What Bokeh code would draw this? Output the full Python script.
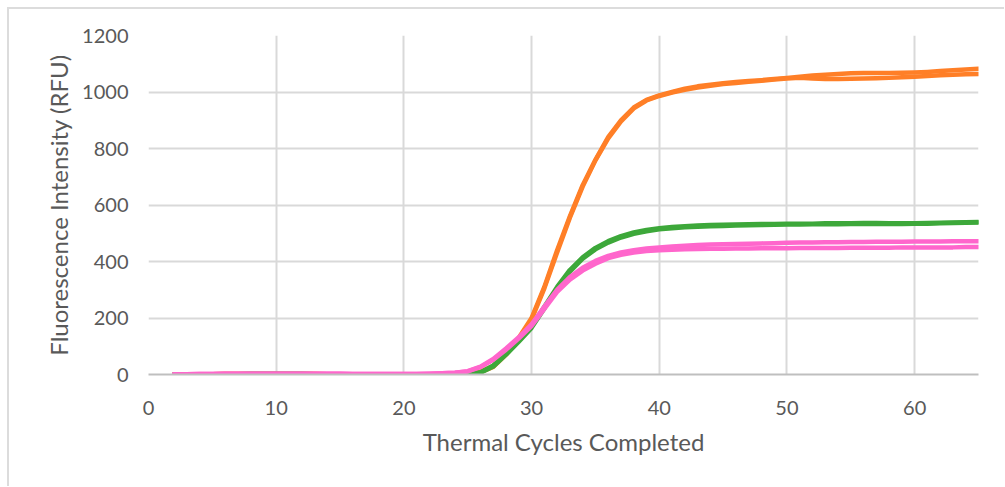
from bokeh.plotting import figure
from bokeh.models import FixedTicker, Range1d
from bokeh.embed import file_html
from bokeh.resources import INLINE

# ---- data ----
cycles = list(range(2, 66))

orange_a = [0, 1, 1, 1, 2, 2, 2, 2, 2, 2, 2, 2, 1, 1, 1, 1, 1, 1, 1, 1, 1, 1,
            1, 3, 10, 30, 75, 130, 200, 310, 440, 560, 670, 760, 840, 900, 945, 972,
            988, 1000, 1012, 1020, 1026, 1031, 1035, 1039, 1042, 1046, 1050, 1054,
            1058, 1061, 1064, 1066, 1067, 1067, 1067, 1068, 1069, 1071, 1074, 1077,
            1080, 1082]
orange_b = [0, 1, 1, 1, 2, 2, 2, 2, 2, 2, 2, 2, 1, 1, 1, 1, 1, 1, 1, 1, 1, 1,
            1, 2, 8, 27, 70, 125, 195, 305, 432, 555, 665, 758, 836, 896, 942, 970,
            986, 998, 1008, 1016, 1022, 1028, 1032, 1036, 1040, 1044, 1048, 1050,
            1048, 1046, 1046, 1047, 1048, 1049, 1050, 1052, 1054, 1057, 1059, 1061,
            1063, 1064]
green_a = [0, 0, 1, 1, 1, 1, 2, 2, 2, 2, 2, 1, 1, 1, 1, 1, 1, 1, 1, 1, 1, 1,
           0, 2, 8, 32, 75, 120, 170, 240, 310, 370, 415, 448, 472, 490, 503, 512,
           518, 522, 525, 527, 529, 530, 531, 532, 533, 533, 534, 534, 534, 535,
           535, 535, 536, 536, 535, 535, 535, 536, 537, 538, 539, 540]
green_b = [0, 0, 1, 1, 1, 1, 2, 2, 2, 2, 2, 1, 1, 1, 1, 1, 1, 1, 1, 1, 1, 1,
           0, 1, 6, 28, 70, 116, 165, 234, 305, 364, 410, 443, 467, 485, 498, 507,
           514, 518, 521, 523, 525, 526, 527, 528, 529, 530, 531, 531, 532, 532,
           532, 533, 533, 533, 533, 533, 534, 534, 535, 536, 537, 538]
pink_a = [1, 1, 2, 2, 3, 3, 3, 3, 3, 3, 3, 3, 3, 3, 2, 2, 2, 2, 2, 2, 3, 4,
          6, 12, 28, 55, 92, 132, 178, 240, 300, 345, 378, 402, 420, 432, 440, 446,
          450, 453, 456, 458, 460, 461, 462, 463, 464, 465, 466, 467, 467, 468,
          468, 469, 469, 470, 470, 470, 471, 471, 471, 472, 472, 472]
pink_b = [1, 1, 2, 2, 3, 3, 3, 3, 3, 3, 3, 3, 3, 3, 2, 2, 2, 2, 2, 2, 3, 4,
          6, 11, 26, 52, 88, 128, 172, 232, 292, 336, 368, 392, 412, 424, 432, 437,
          440, 442, 443, 444, 445, 445, 446, 446, 447, 447, 447, 448, 448, 448,
          448, 449, 449, 449, 449, 450, 450, 450, 450, 450, 451, 451]

x_ticks = [0, 10, 20, 30, 40, 50, 60]
y_ticks = [0, 200, 400, 600, 800, 1000, 1200]

ORANGE = "#ff7f27"
GREEN = "#3da83a"
PINK = "#ff66cc"
TEXT = "#595959"
GRID = "#d9d9d9"
FONT = "Lato"

p = figure(width=997, height=479, output_backend="svg", toolbar_location=None,
           x_range=Range1d(0, 65), y_range=Range1d(0, 1200),
           min_border_left=139, min_border_right=28, min_border_top=26,
           min_border_bottom=114)
p.styles = {"border-left": "2px solid #dcdcdc", "border-top": "2px solid #dcdcdc",
            "margin-left": "7px", "margin-top": "7px"}
p.outline_line_color = None
p.background_fill_color = "white"
p.border_fill_color = "white"

for ys, c in [(orange_a, ORANGE), (orange_b, ORANGE), (green_a, GREEN),
              (green_b, GREEN), (pink_a, PINK), (pink_b, PINK)]:
    p.line(cycles, ys, line_color=c, line_width=4.5, line_join="round", line_cap="round")

p.xaxis.ticker = FixedTicker(ticks=x_ticks)
p.yaxis.ticker = FixedTicker(ticks=y_ticks)
p.xgrid.ticker = FixedTicker(ticks=x_ticks)
p.ygrid.ticker = FixedTicker(ticks=y_ticks)
p.grid.grid_line_color = GRID
p.grid.grid_line_width = 2

for ax in (p.xaxis, p.yaxis):
    ax.major_tick_line_color = None
    ax.minor_tick_line_color = None
    ax.major_label_text_font = FONT
    ax.major_label_text_font_size = "20px"
    ax.major_label_text_color = TEXT
    ax.axis_label_text_font = FONT
    ax.axis_label_text_font_size = "24px"
    ax.axis_label_text_font_style = "normal"
    ax.axis_label_text_color = TEXT

p.xaxis.axis_label = "Thermal Cycles Completed"
p.yaxis.axis_label = "Fluorescence Intensity (RFU)"
p.xaxis.axis_line_color = "#bfbfbf"
p.xaxis.axis_line_width = 2
p.yaxis.axis_line_color = None
p.xaxis.major_label_standoff = 20
p.xaxis.axis_label_standoff = 9
p.yaxis.major_label_standoff = 14
p.yaxis.axis_label_standoff = 6

open("out.html", "w").write(file_html(p, INLINE))
